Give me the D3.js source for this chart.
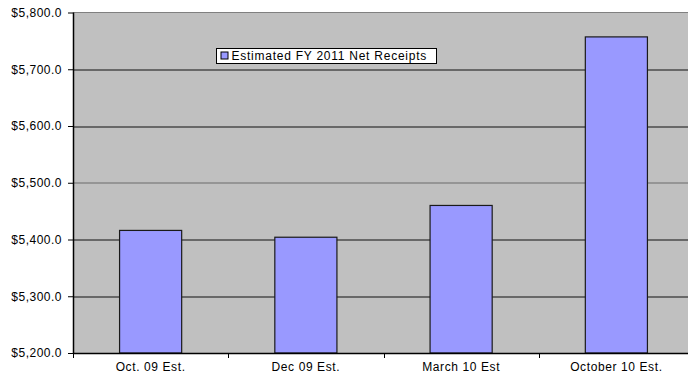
<!DOCTYPE html>
<html>
<head>
<meta charset="utf-8">
<script src="https://cdn.jsdelivr.net/npm/d3@7"></script>
<style>
  body { margin: 0; background: #fff; }
  text { font-family: "Liberation Sans", Arial, sans-serif; }
</style>
</head>
<body>
<div id="chart"></div>
<script>
// chart data
var categories = ["Oct. 09 Est.", "Dec 09 Est.", "March 10 Est", "October 10 Est."];
var receipts = [5416, 5404, 5460, 5757];
var yTicks = [5200, 5300, 5400, 5500, 5600, 5700, 5800];
var seriesName = "Estimated FY 2011 Net Receipts";

var margin = {top: 12.5, right: -6, bottom: 24, left: 73},
    width = 688 - margin.left - margin.right,
    height = 377 - margin.top - margin.bottom;

var svg = d3.select("#chart")
  .append("svg")
    .attr("width", 688)
    .attr("height", 377)
  .append("g")
    .attr("transform", "translate(" + margin.left + "," + margin.top + ")");

// plot background
svg.append("rect")
  .attr("width", width)
  .attr("height", height)
  .attr("fill", "#c0c0c0");

svg.append("line")
  .attr("x1", 0).attr("x2", width)
  .attr("y1", 0).attr("y2", 0)
  .attr("stroke", "#808080")
  .attr("stroke-width", 1);

var x = d3.scaleBand()
  .domain(categories)
  .range([0, width])
  .paddingInner(0.6)
  .paddingOuter(0.3);

var xBand = d3.scaleBand()
  .domain(categories)
  .range([0, width]);

var y = d3.scaleLinear()
  .domain([5200, 5800])
  .range([height, 0]);

// gridlines (the middle one renders lighter in the original)
svg.append("g")
  .selectAll("line")
  .data(yTicks.slice(1, -1))
  .enter()
  .append("line")
    .attr("x1", 0)
    .attr("x2", width)
    .attr("y1", d => Math.round(y(d)) + 0.5)
    .attr("y2", d => Math.round(y(d)) + 0.5)
    .attr("stroke", d => d == 5500 ? "#6a6a6a" : "#111")
    .attr("stroke-width", 1);

// bars
svg.append("g")
  .selectAll("rect")
  .data(receipts)
  .enter()
  .append("rect")
    .attr("x", (d, i) => x(categories[i]))
    .attr("y", d => y(d))
    .attr("width", x.bandwidth())
    .attr("height", d => height - y(d))
    .attr("fill", "#9999ff")
    .attr("stroke", "#1a1a1a")
    .attr("stroke-width", 1.2);

// y axis
var yAxis = svg.append("g")
  .call(d3.axisLeft(y)
    .tickValues(yTicks)
    .tickSize(5)
    .tickPadding(6)
    .tickFormat(d => "$" + d3.format(",.1f")(d)));
yAxis.select(".domain").attr("stroke", "#000").attr("stroke-width", 1.5).attr("d", "M0.5,0V" + height);
yAxis.selectAll(".tick line").attr("stroke", "#000");
yAxis.selectAll("text")
  .attr("font-size", "12px")
  .attr("letter-spacing", "0.5px")
  .attr("fill", "#000");

// x axis
var xAxis = svg.append("g")
  .attr("transform", "translate(0," + height + ")")
  .call(d3.axisBottom(xBand).tickSize(0).tickPadding(9));
xAxis.select(".domain").attr("stroke", "#000").attr("stroke-width", 1.5).attr("d", "M0," + 0.5 + "H" + width);
xAxis.selectAll("text")
  .attr("font-size", "12px")
  .attr("letter-spacing", "0.6px")
  .attr("fill", "#000");

// category separators on x axis
svg.append("g")
  .selectAll("line")
  .data(categories)
  .enter()
  .append("line")
    .attr("x1", d => Math.round(xBand(d)) + 0.5)
    .attr("x2", d => Math.round(xBand(d)) + 0.5)
    .attr("y1", height)
    .attr("y2", height + 5)
    .attr("stroke", "#000");

// legend
var legend = svg.append("g")
  .attr("transform", "translate(" + (216.5 - margin.left) + "," + (48.5 - margin.top) + ")");
legend.append("rect")
  .attr("width", 220)
  .attr("height", 15)
  .attr("fill", "#fff")
  .attr("stroke", "#000");
legend.append("rect")
  .attr("x", 4.5)
  .attr("y", 3.5)
  .attr("width", 7)
  .attr("height", 7)
  .attr("fill", "#9999ff")
  .attr("stroke", "#000");
legend.append("text")
  .attr("x", 15)
  .attr("y", 11.5)
  .attr("font-size", "12px")
  .attr("letter-spacing", "0.75px")
  .text(seriesName);
</script>
</body>
</html>
